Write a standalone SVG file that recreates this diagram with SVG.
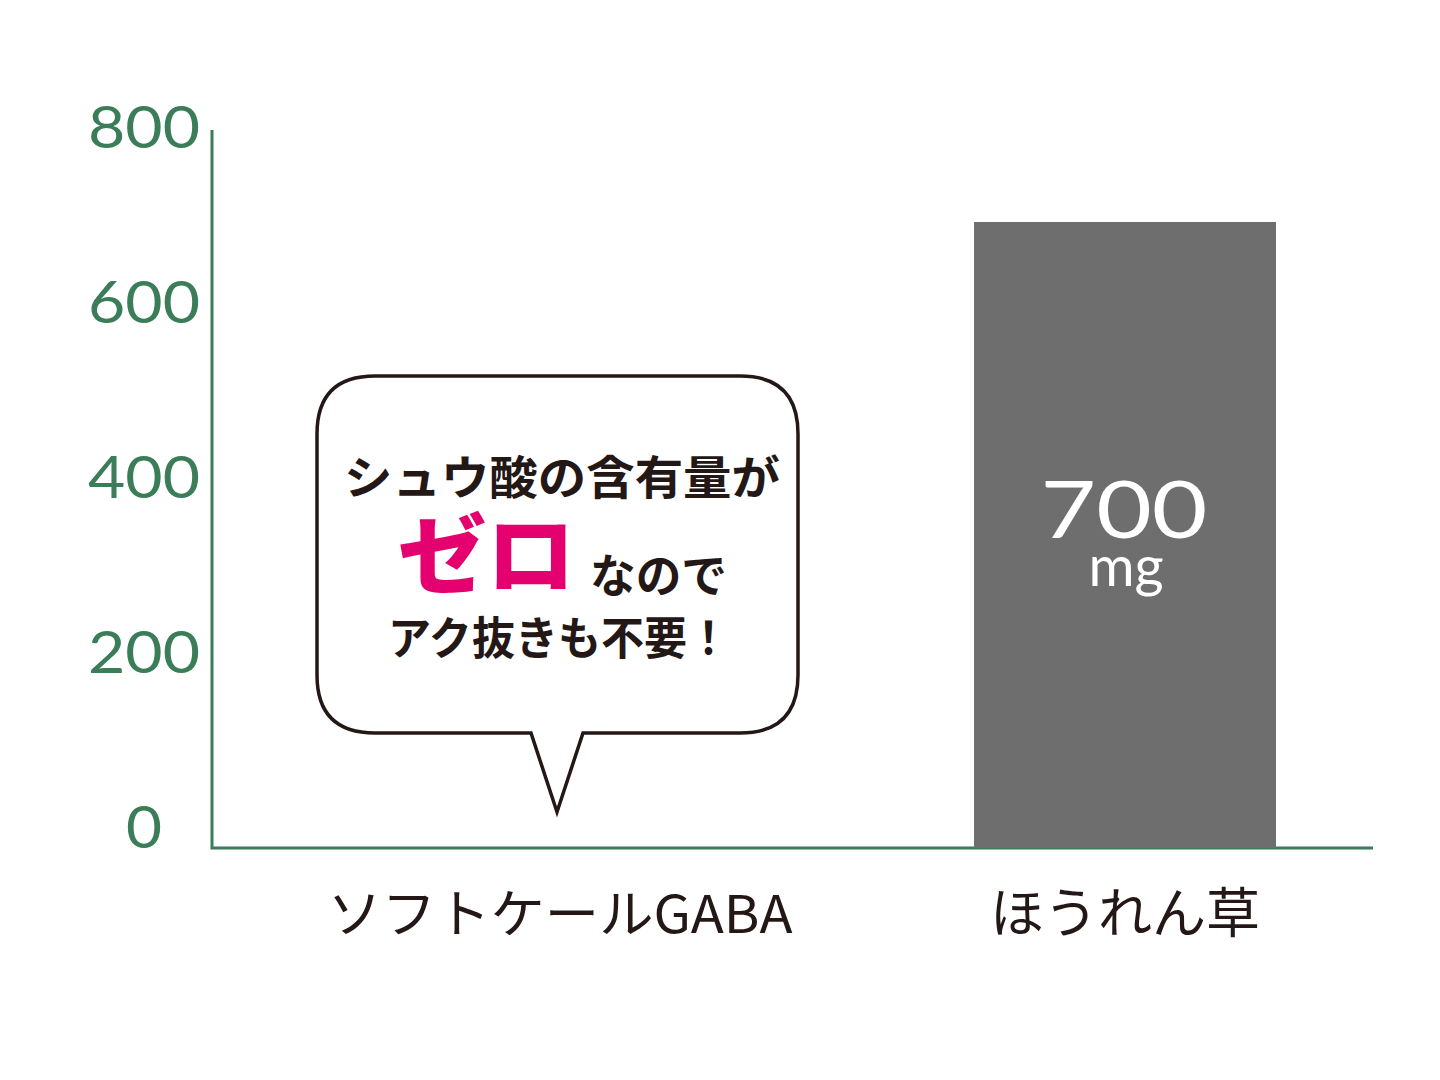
<svg xmlns="http://www.w3.org/2000/svg" width="1440" height="1080" viewBox="0 0 1440 1080">
<style>
.tick{font-family:"Lato","Open Sans","DejaVu Sans",sans-serif;font-size:58px;fill:#3b7d58;text-anchor:middle}
.jp{font-family:"Noto Sans CJK JP","Noto Sans",sans-serif;fill:#231815}
.axis{stroke:#3b7d58;stroke-width:3;fill:none}
</style>
<rect width="1440" height="1080" fill="#ffffff"/>
<g id="axes">
<path class="axis" d="M212,130 V848 H1373"/>
<text class="tick" x="144" y="148" textLength="112" lengthAdjust="spacingAndGlyphs">800</text>
<text class="tick" x="144" y="323" textLength="112" lengthAdjust="spacingAndGlyphs">600</text>
<text class="tick" x="144" y="498" textLength="112" lengthAdjust="spacingAndGlyphs">400</text>
<text class="tick" x="144" y="673" textLength="112" lengthAdjust="spacingAndGlyphs">200</text>
<text class="tick" x="144" y="848" textLength="36" lengthAdjust="spacingAndGlyphs">0</text>
</g>
<g id="bar-spinach">
<rect x="974" y="222" width="302" height="626" fill="#6e6e6e"/>
<text x="1124" y="538" font-family="Lato,'Open Sans',sans-serif" font-size="80" fill="#ffffff" text-anchor="middle" textLength="167" lengthAdjust="spacingAndGlyphs">700</text>
<text x="1126" y="586" font-family="Lato,'Open Sans',sans-serif" font-size="56" fill="#ffffff" text-anchor="middle">mg</text>
</g>
<g id="bubble">
<path d="M375,376 H740 Q798,376 798,434 V675 Q798,733 740,733 H583 L557,812 L531,733 H375 Q317,733 317,675 V434 Q317,376 375,376 Z" fill="#ffffff" stroke="#231815" stroke-width="3.5" stroke-linejoin="miter"/>
<text class="jp" x="562" y="494" font-size="46" font-weight="bold" text-anchor="middle" textLength="436" lengthAdjust="spacingAndGlyphs">シュウ酸の含有量が</text>
<text class="jp" x="398" y="587" font-size="86" font-weight="900" fill="#e4006e" style="fill:#e4006e" textLength="177" lengthAdjust="spacingAndGlyphs">ゼロ</text>
<text class="jp" x="590" y="592" font-size="46" font-weight="bold" textLength="137" lengthAdjust="spacingAndGlyphs">なので</text>
<text class="jp" x="559" y="655" font-size="45" font-weight="bold" text-anchor="middle" textLength="342" lengthAdjust="spacingAndGlyphs">アク抜きも不要！</text>
</g>
<g id="labels">
<text class="jp" x="560" y="933" font-size="52" text-anchor="middle" textLength="465" lengthAdjust="spacingAndGlyphs">ソフトケールGABA</text>
<text class="jp" x="1125" y="933" font-size="54" text-anchor="middle" textLength="270" lengthAdjust="spacingAndGlyphs">ほうれん草</text>
</g>
</svg>
